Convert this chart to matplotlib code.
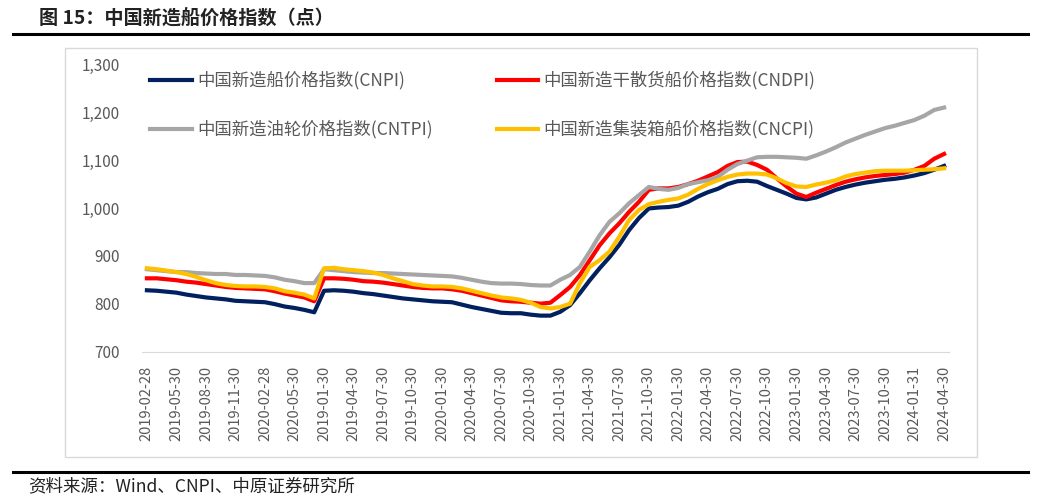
import matplotlib
matplotlib.use("Agg")
import matplotlib.pyplot as plt
from matplotlib.lines import Line2D
from matplotlib.patches import Rectangle
from matplotlib.ticker import FuncFormatter

plt.rcParams['font.family'] = ['Noto Sans CJK SC', 'DejaVu Sans']

# 月度数据，每3个月一个刻度标签（原图标签如此）
tick_labels = [
    '2019-02-28', '2019-05-30', '2019-08-30', '2019-11-30', '2020-02-28', '2020-05-30',
    '2019-01-30', '2019-04-30', '2019-07-30', '2019-10-30', '2020-01-30', '2020-04-30',
    '2020-07-30', '2020-10-30', '2021-01-30', '2021-04-30', '2021-07-30', '2021-10-30',
    '2022-01-30', '2022-04-30', '2022-07-30', '2022-10-30', '2023-01-30', '2023-04-30',
    '2023-07-30', '2023-10-30', '2024-01-31', '2024-04-30',
]

cnpi = [828, 827, 825, 823, 819, 816, 813, 811, 809, 806, 805, 804, 803, 799, 794, 791, 787, 782,
        827, 828, 827, 825, 822, 820, 817, 814, 811, 809, 807, 805, 804, 803, 798, 793, 789, 785,
        781, 780, 780, 777, 775, 775,
        783, 797, 822, 849, 874, 897, 923, 954, 979, 999,
        1001, 1002, 1005, 1013, 1024, 1033, 1040, 1050, 1056, 1057, 1055, 1046,
        1038, 1030, 1021, 1018, 1022, 1030, 1038, 1044, 1049, 1053, 1056, 1059, 1061, 1064, 1068, 1073, 1080, 1088]

cndpi = [853, 853, 851, 849, 846, 844, 841, 838, 835, 833, 832, 831, 830, 826, 821, 817, 813, 805,
         853, 853, 852, 850, 847, 846, 844, 841, 838, 835, 833, 832, 832, 830, 827, 822, 817, 812,
         807, 805, 804, 802, 800, 802,
         818, 835, 860, 891, 922, 947, 968, 992, 1013, 1038,
         1041, 1041, 1044, 1050, 1057, 1066, 1075, 1088, 1096, 1097, 1090, 1080,
         1062, 1045, 1030, 1023, 1032, 1040, 1048, 1055, 1060, 1064, 1067, 1069, 1071, 1074, 1080, 1088, 1103, 1113]

cntpi = [872, 870, 868, 866, 866, 864, 863, 862, 862, 860, 860, 859, 858, 855, 850, 847, 843, 843,
         872, 870, 868, 866, 865, 864, 864, 863, 862, 861, 860, 859, 858, 857, 854, 850, 846, 843,
         842, 842, 841, 839, 838, 838,
         850, 860, 877, 909, 943, 971, 989, 1010, 1027, 1044,
         1040, 1038, 1042, 1050, 1054, 1058, 1065, 1080, 1092, 1099, 1106, 1107,
         1107, 1106, 1105, 1103, 1110, 1118, 1127, 1137, 1145, 1153, 1160, 1167, 1172, 1178, 1184, 1193, 1205, 1210]

cncpi = [874, 872, 869, 866, 862, 856, 849, 843, 839, 837, 836, 836, 835, 832, 826, 823, 819, 811,
         874, 875, 872, 870, 868, 865, 860, 853, 847, 841, 838, 836, 836, 835, 832, 827, 822, 817,
         813, 811, 808, 802, 793, 790,
         793, 800, 843, 877, 891, 909, 940, 975, 996, 1008,
         1013, 1017, 1020, 1028, 1040, 1050, 1058, 1065, 1070, 1072, 1072, 1070,
         1062, 1052, 1045, 1044, 1049, 1053, 1058, 1066, 1071, 1074, 1077, 1078, 1078, 1078, 1079, 1080, 1081, 1083]

names = ['中国新造船价格指数(CNPI)', '中国新造干散货船价格指数(CNDPI)',
         '中国新造油轮价格指数(CNTPI)', '中国新造集装箱船价格指数(CNCPI)']
colors = ['#002060', '#FF0000', '#A6A6A6', '#FFC000']

W, H = 1049, 497
fig = plt.figure(figsize=(W / 100, H / 100), dpi=100)

# 图表外框
fig.add_artist(Rectangle((65 / W, 1 - 457 / H), (977 - 65) / W, (457 - 48) / H,
                         transform=fig.transFigure, fill=False, edgecolor='#D9D9D9', lw=1))

ax = fig.add_axes([142 / W, 1 - 351.5 / H, (949 - 142) / W, (351.5 - 64.5) / H])
x = list(range(len(cnpi)))
lines = []
for s, c, n in zip([cnpi, cndpi, cntpi, cncpi], colors, names):
    ln, = ax.plot(x, s, color=c, lw=3, label=n, solid_joinstyle='round')
    lines.append(ln)

ax.set_xlim(-0.5, len(cnpi) - 0.5)
ax.set_ylim(700, 1300)
ax.set_yticks(range(700, 1301, 100))
ax.yaxis.set_major_formatter(FuncFormatter(lambda v, p: f'{int(v):,}'))
ax.set_xticks(range(0, len(cnpi), 3))
ax.set_xticklabels(tick_labels, rotation=90)
ax.tick_params(axis='x', length=0, pad=10, labelsize=10.5, labelcolor='#595959')
ax.tick_params(axis='y', length=0, pad=16, labelsize=11, labelcolor='#595959')
for sp in ['top', 'right', 'left']:
    ax.spines[sp].set_visible(False)
ax.spines['bottom'].set_color('#D9D9D9')

# 图例按行排列：先 CNPI、CNDPI，再 CNTPI、CNCPI
order = [0, 2, 1, 3]
leg = ax.legend([lines[i] for i in order], [names[i] for i in order],
                loc='upper left', bbox_to_anchor=(150 / W, 1 - 71 / H), bbox_transform=fig.transFigure,
                ncol=2, frameon=False, fontsize=12.5, handlelength=2.4, handletextpad=0.3,
                columnspacing=3.7, labelspacing=1.75, borderpad=0, borderaxespad=0)
for t in leg.get_texts():
    t.set_color('#595959')

# 标题和分隔线
fig.text(39 / W, 1 - 18 / H, '图 15：中国新造船价格指数（点）', fontsize=13.8, fontweight='bold',
         va='center', ha='left', color='#222222')
fig.add_artist(Line2D([13 / W, 1028 / W], [1 - 34 / H, 1 - 34 / H], color='black', lw=2.2))
fig.add_artist(Line2D([13 / W, 1028 / W], [1 - 472 / H, 1 - 472 / H], color='black', lw=2.2))
fig.text(28 / W, 1 - 486 / H, '资料来源：Wind、CNPI、中原证券研究所', fontsize=12.6,
         va='center', ha='left', color='#222222')

fig.savefig('out.png', dpi=100)
